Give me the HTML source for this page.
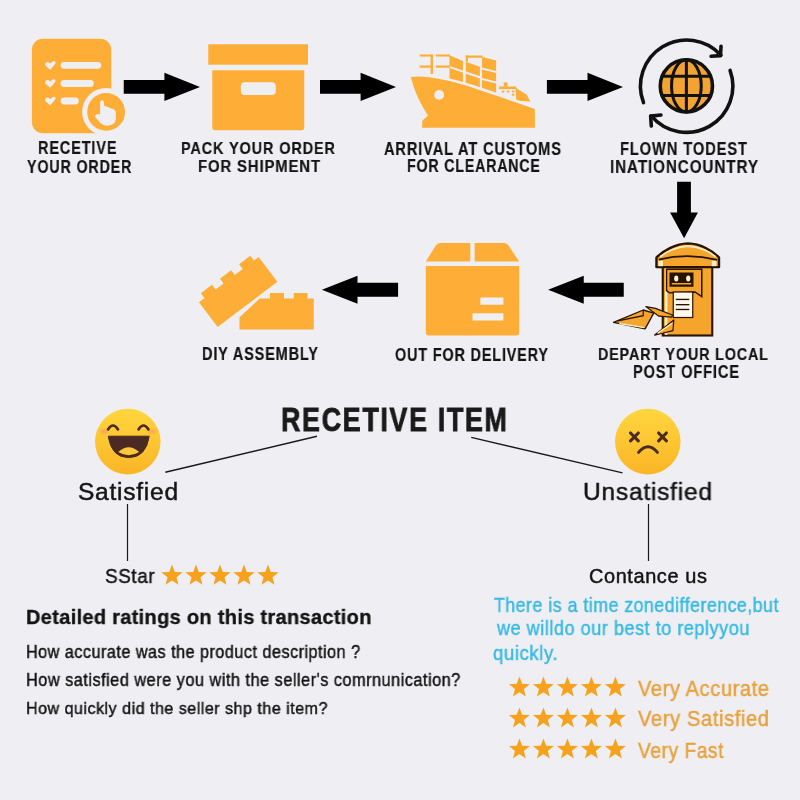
<!DOCTYPE html><html><head><meta charset="utf-8"><style>html,body{margin:0;padding:0;width:800px;height:800px;overflow:hidden;background:#EFEEF3}.t{position:absolute;white-space:pre;line-height:0;font-family:"Liberation Sans",sans-serif;transform-origin:0 0;will-change:transform}</style></head><body>
<svg width="800" height="800" viewBox="0 0 800 800" style="position:absolute;left:0;top:0">
<defs><linearGradient id="emo" x1="0" y1="0" x2="0" y2="1"><stop offset="0" stop-color="#FFD63E"/><stop offset="1" stop-color="#FBB526"/></linearGradient><radialGradient id="blush" cx="0.5" cy="0.5" r="0.5"><stop offset="0" stop-color="#F7946A" stop-opacity="0.75"/><stop offset="1" stop-color="#F7946A" stop-opacity="0"/></radialGradient></defs>
<polygon points="123.75,80.0 164.4,80.0 164.4,72.80000000000001 200,86.9 164.4,101.0 164.4,93.80000000000001 123.75,93.80000000000001" fill="#000"/>
<polygon points="320,80.0 360.6,80.0 360.6,72.80000000000001 396,86.9 360.6,101.0 360.6,93.80000000000001 320,93.80000000000001" fill="#000"/>
<polygon points="546.9,80.0 587.5,80.0 587.5,72.80000000000001 623,86.9 587.5,101.0 587.5,93.80000000000001 546.9,93.80000000000001" fill="#000"/>
<polygon points="623.75,282.85 583.75,282.85 583.75,275.65 548.1,289.75 583.75,303.85 583.75,296.65 623.75,296.65" fill="#000"/>
<polygon points="398.1,282.85 357.5,282.85 357.5,275.65 321.9,289.75 357.5,303.85 357.5,296.65 398.1,296.65" fill="#000"/>
<polygon points="677.1,181.8 690.9,181.8 690.9,212.4 697.9,212.4 684.1,238.2 670.1,212.4 677.1,212.4" fill="#000"/>
<rect x="31.9" y="38.75" width="79.35" height="94.5" rx="11" fill="#FEAE36"/>
<rect x="60.6" y="61.9" width="40.65" height="6.9" rx="3.45" fill="#EFEEF3"/>
<path d="M45.2,64.3 Q45.2,61.89999999999999 47.6,61.89999999999999 Q49.3,61.89999999999999 50.2,63.49999999999999 L52.6,61.49999999999999 Q54.2,60.49999999999999 55.4,61.89999999999999 Q56,63.099999999999994 54.8,64.3 L50.2,69.69999999999999 L46.4,66.5 Q45.2,65.5 45.2,64.3 Z" fill="#EFEEF3"/>
<rect x="60.6" y="80" width="33.15" height="6.9" rx="3.45" fill="#EFEEF3"/>
<path d="M45.2,82.4 Q45.2,80.0 47.6,80.0 Q49.3,80.0 50.2,81.60000000000001 L52.6,79.60000000000001 Q54.2,78.60000000000001 55.4,80.0 Q56,81.2 54.8,82.4 L50.2,87.8 L46.4,84.60000000000001 Q45.2,83.60000000000001 45.2,82.4 Z" fill="#EFEEF3"/>
<rect x="60.6" y="97.5" width="18.15" height="6.9" rx="3.45" fill="#EFEEF3"/>
<path d="M45.2,99.9 Q45.2,97.5 47.6,97.5 Q49.3,97.5 50.2,99.10000000000001 L52.6,97.10000000000001 Q54.2,96.10000000000001 55.4,97.5 Q56,98.7 54.8,99.9 L50.2,105.3 L46.4,102.10000000000001 Q45.2,101.10000000000001 45.2,99.9 Z" fill="#EFEEF3"/>
<circle cx="106.1" cy="111.9" r="24" fill="#EFEEF3"/>
<circle cx="106.1" cy="111.9" r="18.9" fill="#FEAE36"/>
<path d="M322,470 L322,285 Q322,245 353,245 Q385,245 385,285 L385,330 Q420,335 440,350 Q470,355 490,372 Q540,380 560,405 Q575,420 572,450 L572,540 Q565,640 440,650 Q360,650 320,600 L250,520 Q230,490 250,478 Q285,455 322,470 Z" transform="translate(80,85) scale(0.0625)" fill="#EFEEF3"/>
<rect x="208.25" y="44.3" width="99.75" height="20.4" fill="#FEAE36"/>
<path d="M212.3,70.25 H304.25 V127.25 Q304.25,130.25 301.25,130.25 H215.3 Q212.3,130.25 212.3,127.25 Z" fill="#FEAE36"/>
<rect x="240.8" y="82.25" width="34.95" height="12.75" rx="4" fill="#EFEEF3"/>
<g transform="translate(405,45) scale(0.175)">
<polygon points="254,59 331,92 331,145 254,120" fill="#FEAE36"/>
<polygon points="254,132 331,157 331,265 254,240" fill="#FEAE36"/>
<polygon points="347,95 428,124 428,178 347,150" fill="#FEAE36"/>
<polygon points="347,164 428,192 428,300 347,280" fill="#FEAE36"/>
<rect x="347" y="60" width="95" height="13" fill="#FEAE36"/>
<rect x="347" y="60" width="13" height="35" fill="#FEAE36"/>
<polygon points="440,69 521,88 521,148 440,128" fill="#FEAE36"/>
<polygon points="440,140 521,160 521,208 440,188" fill="#FEAE36"/>
<polygon points="440,200 521,220 521,320 440,300" fill="#FEAE36"/>
<rect x="84" y="54" width="74" height="12" fill="#FEAE36"/>
<rect x="84" y="117" width="74" height="13" fill="#FEAE36"/>
<rect x="146" y="54" width="14" height="111" fill="#FEAE36"/>
<rect x="177" y="54" width="80" height="12" fill="#FEAE36"/>
<rect x="177" y="117" width="80" height="13" fill="#FEAE36"/>
<rect x="564" y="214" width="22" height="24" fill="#FEAE36"/>
<rect x="537" y="237" width="99" height="15" fill="#FEAE36"/>
<rect x="553.6" y="260.7" width="14.3" height="10.7" fill="#FEAE36"/>
<rect x="582" y="260.7" width="14.3" height="10.7" fill="#FEAE36"/>
<rect x="610.7" y="260.7" width="14.3" height="10.7" fill="#FEAE36"/>
<rect x="610.7" y="278.6" width="14.3" height="10.7" fill="#FEAE36"/>
<polygon points="632,244 696,284 716,323 636,318" fill="#FEAE36"/>
<path d="M33,183 Q150,165 400,245 L745,362" stroke="#EFEEF3" stroke-width="26" fill="none"/>
<path d="M33,183 Q150,168 400,248 L742,365 L742,473 L97,473 L100,432 L131,403 Q61,297 33,183 Z" fill="#FEAE36"/>
<circle cx="195" cy="285" r="28" fill="#EFEEF3"/>
</g>
<g transform="translate(630,35) scale(0.1375)">
<circle cx="410" cy="370" r="190" fill="#F2A331" stroke="#111" stroke-width="26"/>
<ellipse cx="410" cy="370" rx="108" ry="190" fill="none" stroke="#111" stroke-width="22"/>
<line x1="410" y1="180" x2="410" y2="560" stroke="#111" stroke-width="22"/>
<line x1="225" y1="300" x2="595" y2="300" stroke="#111" stroke-width="22"/>
<line x1="225" y1="440" x2="595" y2="440" stroke="#111" stroke-width="22"/>
<path d="M98.3,492.4 A336,336 0 0 1 661.7,147.2" fill="none" stroke="#111" stroke-width="26" stroke-linecap="round"/>
<polyline points="590,155 658,150 662,82" fill="none" stroke="#111" stroke-width="26" stroke-linecap="round" stroke-linejoin="round"/>
<path d="M727.7,257.1 A336,336 0 0 1 154.6,588.0" fill="none" stroke="#111" stroke-width="26" stroke-linecap="round"/>
<polyline points="225,582 150,590 155,662" fill="none" stroke="#111" stroke-width="26" stroke-linecap="round" stroke-linejoin="round"/>
</g>
<g transform="translate(605,235) scale(0.15)">
<rect x="385" y="205" width="330" height="465" fill="#F5A52C" stroke="#2A1200" stroke-width="14"/>
<rect x="400" y="215" width="16" height="450" fill="#FFF3D6"/>
<path d="M343,150 C385,108 470,58 553,56 C640,58 722,108 760,150 L760,214 L343,214 Z" fill="#F5A52C" stroke="#2A1200" stroke-width="16" stroke-linejoin="round"/>
<path d="M368,146 C405,112 482,76 553,74 C628,76 702,112 738,146" fill="none" stroke="#FFF0CC" stroke-width="11"/>
<path d="M358,164 Q553,118 748,166" fill="none" stroke="#2A1200" stroke-width="12"/>
<rect x="356" y="172" width="30" height="36" fill="#FFF0CC"/>
<rect x="712" y="172" width="30" height="36" fill="#FFF0CC"/>
<path d="M410,228 L645,228 L645,410 L600,380 L430,385 L410,370 Z" fill="#F5A52C" stroke="#2A1200" stroke-width="10"/>
<rect x="430" y="250" width="160" height="95" fill="#2A1200"/>
<rect x="445" y="320" width="130" height="10" fill="#F5A52C"/>
<ellipse cx="475" cy="290" rx="14" ry="20" fill="#FFF3D6"/>
<ellipse cx="555" cy="290" rx="14" ry="20" fill="#FFF3D6"/>
<rect x="455" y="380" width="130" height="170" fill="#FFF8EC" stroke="#2A1200" stroke-width="8"/>
<rect x="472" y="425" width="90" height="9" fill="#2A1200"/>
<rect x="472" y="460" width="90" height="9" fill="#2A1200"/>
<rect x="472" y="492" width="90" height="9" fill="#2A1200"/>
<polygon points="57,582 255,500 325,521 267,626" fill="#F5A52C" stroke="#2A1200" stroke-width="9" stroke-linejoin="round"/>
<polyline points="95,590 262,618" fill="none" stroke="#FFF0CC" stroke-width="9"/>
<polyline points="86,573 255,538 255,503" fill="none" stroke="#2A1200" stroke-width="8"/>
<polygon points="272,477 337,489 453,535 442,547 360,541 307,503" fill="#F5A52C" stroke="#2A1200" stroke-width="8" stroke-linejoin="round"/>
<polygon points="331,667 459,567 453,637 383,655" fill="#F5A52C" stroke="#2A1200" stroke-width="8" stroke-linejoin="round"/>
<polyline points="350,655 445,590" fill="none" stroke="#FFF0CC" stroke-width="8"/>
</g>
<path d="M425.8,261.6 L435.8,245.4 Q437.3,242.9 440,242.9 L504.3,242.9 Q507,242.9 508.5,245.4 L519.2,261.6 Z" fill="#FEAE36"/>
<rect x="470.3" y="240" width="4.35" height="24" fill="#EFEEF3"/>
<path d="M425.8,265.9 H519.2 V332.6 Q519.2,335.6 516.2,335.6 H428.8 Q425.8,335.6 425.8,332.6 Z" fill="#FEAE36"/>
<rect x="480.4" y="297.5" width="23" height="7.2" fill="#EFEEF3"/>
<rect x="472.5" y="313.3" width="30.9" height="7.2" fill="#EFEEF3"/>
<path d="M0,0 H7 V-6 H21 V0 H31 V-6 H45 V0 H55 V-6 H69 V0 H75 V31 H0 Z" transform="translate(198.9,302.3) rotate(-37.2)" fill="#FEAE36"/>
<polygon points="239.5,329.4 313.75,329.4 313.75,298.4 307.5,298.4 307.5,293 293.75,293 293.75,298.4 284,298.4 284,293 270,293 270,298.4 259.8,298.4 239.5,317.2" fill="#FEAE36"/>
<line x1="165.3" y1="472.3" x2="317" y2="436.25" stroke="#1a1a1a" stroke-width="1.4"/>
<line x1="471.25" y1="437.4" x2="622.5" y2="472.9" stroke="#1a1a1a" stroke-width="1.4"/>
<line x1="127.5" y1="504" x2="127.5" y2="561" stroke="#1a1a1a" stroke-width="1.2"/>
<line x1="648.5" y1="504" x2="648.5" y2="561" stroke="#1a1a1a" stroke-width="1.2"/>
<circle cx="127.8" cy="441.6" r="32.8" fill="url(#emo)"/>
<ellipse cx="104" cy="431.5" rx="6" ry="4" fill="url(#blush)"/>
<ellipse cx="152" cy="431.5" rx="6" ry="4" fill="url(#blush)"/>
<path d="M108,429.5 Q113,421.5 118,429.5" fill="none" stroke="#4A2A22" stroke-width="2.6" stroke-linecap="round"/>
<path d="M138.5,429.5 Q143.5,421.5 148.5,429.5" fill="none" stroke="#4A2A22" stroke-width="2.6" stroke-linecap="round"/>
<path d="M108.2,436.2 L149.2,436.2 Q146,457.6 128.7,457.6 Q111.4,457.6 108.2,436.2 Z" fill="#4A2A22" stroke="#4A2A22" stroke-width="1" stroke-linejoin="round"/>
<path d="M118.2,452 Q128.7,442.5 139.2,452 Q134,455.2 128.7,455.2 Q123.4,455.2 118.2,452 Z" fill="#FFC83A"/>
<circle cx="647.8" cy="441.6" r="32.8" fill="url(#emo)"/>
<path d="M630.5,433.0 L638.3,440.79999999999995 M638.3,433.0 L630.5,440.79999999999995" stroke="#4A2A22" stroke-width="3.1" stroke-linecap="round"/>
<path d="M658.6,433.0 L666.4,440.79999999999995 M666.4,433.0 L658.6,440.79999999999995" stroke="#4A2A22" stroke-width="3.1" stroke-linecap="round"/>
<path d="M638.6,452.4 Q648,441.2 657.4,452.4" fill="none" stroke="#4A2A22" stroke-width="3" stroke-linecap="round"/>
<polygon points="172.00,564.60 174.76,571.99 182.65,572.34 176.47,577.25 178.58,584.86 172.00,580.50 165.42,584.86 167.53,577.25 161.35,572.34 169.24,571.99" fill="#F6A21C"/>
<polygon points="196.00,564.60 198.76,571.99 206.65,572.34 200.47,577.25 202.58,584.86 196.00,580.50 189.42,584.86 191.53,577.25 185.35,572.34 193.24,571.99" fill="#F6A21C"/>
<polygon points="220.00,564.60 222.76,571.99 230.65,572.34 224.47,577.25 226.58,584.86 220.00,580.50 213.42,584.86 215.53,577.25 209.35,572.34 217.24,571.99" fill="#F6A21C"/>
<polygon points="244.00,564.60 246.76,571.99 254.65,572.34 248.47,577.25 250.58,584.86 244.00,580.50 237.42,584.86 239.53,577.25 233.35,572.34 241.24,571.99" fill="#F6A21C"/>
<polygon points="268.00,564.60 270.76,571.99 278.65,572.34 272.47,577.25 274.58,584.86 268.00,580.50 261.42,584.86 263.53,577.25 257.35,572.34 265.24,571.99" fill="#F6A21C"/>
<polygon points="519.40,676.60 522.12,683.86 529.86,684.20 523.79,689.03 525.87,696.50 519.40,692.22 512.93,696.50 515.01,689.03 508.94,684.20 516.68,683.86" fill="#F6A21C"/>
<polygon points="543.40,676.60 546.12,683.86 553.86,684.20 547.79,689.03 549.87,696.50 543.40,692.22 536.93,696.50 539.01,689.03 532.94,684.20 540.68,683.86" fill="#F6A21C"/>
<polygon points="567.40,676.60 570.12,683.86 577.86,684.20 571.79,689.03 573.87,696.50 567.40,692.22 560.93,696.50 563.01,689.03 556.94,684.20 564.68,683.86" fill="#F6A21C"/>
<polygon points="591.40,676.60 594.12,683.86 601.86,684.20 595.79,689.03 597.87,696.50 591.40,692.22 584.93,696.50 587.01,689.03 580.94,684.20 588.68,683.86" fill="#F6A21C"/>
<polygon points="615.40,676.60 618.12,683.86 625.86,684.20 619.79,689.03 621.87,696.50 615.40,692.22 608.93,696.50 611.01,689.03 604.94,684.20 612.68,683.86" fill="#F6A21C"/>
<polygon points="519.40,707.50 522.12,714.76 529.86,715.10 523.79,719.93 525.87,727.40 519.40,723.12 512.93,727.40 515.01,719.93 508.94,715.10 516.68,714.76" fill="#F6A21C"/>
<polygon points="543.40,707.50 546.12,714.76 553.86,715.10 547.79,719.93 549.87,727.40 543.40,723.12 536.93,727.40 539.01,719.93 532.94,715.10 540.68,714.76" fill="#F6A21C"/>
<polygon points="567.40,707.50 570.12,714.76 577.86,715.10 571.79,719.93 573.87,727.40 567.40,723.12 560.93,727.40 563.01,719.93 556.94,715.10 564.68,714.76" fill="#F6A21C"/>
<polygon points="591.40,707.50 594.12,714.76 601.86,715.10 595.79,719.93 597.87,727.40 591.40,723.12 584.93,727.40 587.01,719.93 580.94,715.10 588.68,714.76" fill="#F6A21C"/>
<polygon points="615.40,707.50 618.12,714.76 625.86,715.10 619.79,719.93 621.87,727.40 615.40,723.12 608.93,727.40 611.01,719.93 604.94,715.10 612.68,714.76" fill="#F6A21C"/>
<polygon points="519.40,738.50 522.12,745.76 529.86,746.10 523.79,750.93 525.87,758.40 519.40,754.12 512.93,758.40 515.01,750.93 508.94,746.10 516.68,745.76" fill="#F6A21C"/>
<polygon points="543.40,738.50 546.12,745.76 553.86,746.10 547.79,750.93 549.87,758.40 543.40,754.12 536.93,758.40 539.01,750.93 532.94,746.10 540.68,745.76" fill="#F6A21C"/>
<polygon points="567.40,738.50 570.12,745.76 577.86,746.10 571.79,750.93 573.87,758.40 567.40,754.12 560.93,758.40 563.01,750.93 556.94,746.10 564.68,745.76" fill="#F6A21C"/>
<polygon points="591.40,738.50 594.12,745.76 601.86,746.10 595.79,750.93 597.87,758.40 591.40,754.12 584.93,758.40 587.01,750.93 580.94,746.10 588.68,745.76" fill="#F6A21C"/>
<polygon points="615.40,738.50 618.12,745.76 625.86,746.10 619.79,750.93 621.87,758.40 615.40,754.12 608.93,758.40 611.01,750.93 604.94,746.10 612.68,745.76" fill="#F6A21C"/>
</svg>
<div class="t" style="left:37.50px;top:148.00px;font-size:17.45px;font-weight:bold;color:#141414;-webkit-text-stroke:0.2px #141414;letter-spacing:1.05px;transform:scaleX(0.8301)">RECETIVE</div>
<div class="t" style="left:27.00px;top:167.00px;font-size:17.45px;font-weight:bold;color:#141414;-webkit-text-stroke:0.2px #141414;letter-spacing:1.05px;transform:scaleX(0.8180)">YOUR ORDER</div>
<div class="t" style="left:181.00px;top:148.00px;font-size:17.31px;font-weight:bold;color:#141414;-webkit-text-stroke:0.2px #141414;letter-spacing:1.04px;transform:scaleX(0.8363)">PACK YOUR ORDER</div>
<div class="t" style="left:198.00px;top:167.00px;font-size:17.02px;font-weight:bold;color:#141414;-webkit-text-stroke:0.2px #141414;letter-spacing:1.02px;transform:scaleX(0.8727)">FOR SHIPMENT</div>
<div class="t" style="left:384.00px;top:149.00px;font-size:18.04px;font-weight:bold;color:#141414;-webkit-text-stroke:0.2px #141414;letter-spacing:1.08px;transform:scaleX(0.8090)">ARRIVAL AT CUSTOMS</div>
<div class="t" style="left:407.00px;top:166.00px;font-size:17.89px;font-weight:bold;color:#141414;-webkit-text-stroke:0.2px #141414;letter-spacing:1.07px;transform:scaleX(0.7922)">FOR CLEARANCE</div>
<div class="t" style="left:620.00px;top:149.00px;font-size:17.60px;font-weight:bold;color:#141414;-webkit-text-stroke:0.2px #141414;letter-spacing:1.06px;transform:scaleX(0.8353)">FLOWN TODEST</div>
<div class="t" style="left:610.00px;top:167.00px;font-size:17.75px;font-weight:bold;color:#141414;-webkit-text-stroke:0.2px #141414;letter-spacing:1.06px;transform:scaleX(0.8577)">INATIONCOUNTRY</div>
<div class="t" style="left:598.00px;top:354.00px;font-size:17.31px;font-weight:bold;color:#141414;-webkit-text-stroke:0.2px #141414;letter-spacing:1.04px;transform:scaleX(0.8275)">DEPART YOUR LOCAL</div>
<div class="t" style="left:633.00px;top:372.00px;font-size:17.96px;font-weight:bold;color:#141414;-webkit-text-stroke:0.2px #141414;letter-spacing:1.08px;transform:scaleX(0.8125)">POST OFFICE</div>
<div class="t" style="left:202.00px;top:354.00px;font-size:17.75px;font-weight:bold;color:#141414;-webkit-text-stroke:0.2px #141414;letter-spacing:1.06px;transform:scaleX(0.8157)">DIY ASSEMBLY</div>
<div class="t" style="left:395.00px;top:355.00px;font-size:18.18px;font-weight:bold;color:#141414;-webkit-text-stroke:0.2px #141414;letter-spacing:1.09px;transform:scaleX(0.7909)">OUT FOR DELIVERY</div>
<div class="t" style="left:281.00px;top:420.00px;font-size:32.44px;font-weight:bold;color:#1A1A1A;-webkit-text-stroke:0.8px #1A1A1A;letter-spacing:1.95px;transform:scaleX(0.8306)">RECETIVE ITEM</div>
<div class="t" style="left:78.00px;top:492.00px;font-size:23.35px;font-weight:normal;color:#141414;-webkit-text-stroke:0.45px #141414;letter-spacing:0.70px;transform:scaleX(1.0517)">Satisfied</div>
<div class="t" style="left:583.00px;top:492.00px;font-size:24.73px;font-weight:normal;color:#141414;-webkit-text-stroke:0.45px #141414;letter-spacing:0.74px;transform:scaleX(0.9948)">Unsatisfied</div>
<div class="t" style="left:105.00px;top:576.00px;font-size:19.64px;font-weight:normal;color:#141414;-webkit-text-stroke:0.45px #141414;letter-spacing:0.59px;transform:scaleX(0.9626)">SStar</div>
<div class="t" style="left:589.00px;top:576.00px;font-size:19.78px;font-weight:normal;color:#141414;-webkit-text-stroke:0.45px #141414;letter-spacing:0.59px;transform:scaleX(1.0086)">Contance us</div>
<div class="t" style="left:25.50px;top:617.00px;font-size:20.51px;font-weight:bold;color:#141414;-webkit-text-stroke:0.35px #141414;letter-spacing:0.31px;transform:scaleX(0.9766)">Detailed ratings on this transaction</div>
<div class="t" style="left:25.50px;top:652.00px;font-size:17.45px;font-weight:normal;color:#141414;-webkit-text-stroke:0.45px #141414;letter-spacing:0.52px;transform:scaleX(0.9290)">How accurate was the product description ?</div>
<div class="t" style="left:25.50px;top:680.00px;font-size:18.04px;font-weight:normal;color:#141414;-webkit-text-stroke:0.45px #141414;letter-spacing:0.54px;transform:scaleX(0.9046)">How satisfied were you with the seller's comrnunication?</div>
<div class="t" style="left:25.50px;top:709.00px;font-size:16.87px;font-weight:normal;color:#141414;-webkit-text-stroke:0.45px #141414;letter-spacing:0.51px;transform:scaleX(0.9538)">How quickly did the seller shp the item?</div>
<div class="t" style="left:493.50px;top:605.00px;font-size:19.64px;font-weight:normal;color:#36BAE4;-webkit-text-stroke:0.45px #36BAE4;letter-spacing:0.59px;transform:scaleX(0.9005)">There is a time zonedifference,but</div>
<div class="t" style="left:496.59px;top:628.00px;font-size:19.64px;font-weight:normal;color:#36BAE4;-webkit-text-stroke:0.45px #36BAE4;letter-spacing:0.59px;transform:scaleX(0.9188)">we willdo our best to replyyou</div>
<div class="t" style="left:492.50px;top:653.00px;font-size:19.64px;font-weight:normal;color:#36BAE4;-webkit-text-stroke:0.45px #36BAE4;letter-spacing:0.59px;transform:scaleX(0.9475)">quickly.</div>
<div class="t" style="left:638.00px;top:689.00px;font-size:21.53px;font-weight:normal;color:#E9A13D;-webkit-text-stroke:0.45px #E9A13D;letter-spacing:0.65px;transform:scaleX(0.9320)">Very Accurate</div>
<div class="t" style="left:638.00px;top:719.00px;font-size:22.33px;font-weight:normal;color:#E9A13D;-webkit-text-stroke:0.45px #E9A13D;letter-spacing:0.67px;transform:scaleX(0.9021)">Very Satisfied</div>
<div class="t" style="left:638.00px;top:751.00px;font-size:21.31px;font-weight:normal;color:#E9A13D;-webkit-text-stroke:0.45px #E9A13D;letter-spacing:0.64px;transform:scaleX(0.8987)">Very Fast</div>
</body></html>
